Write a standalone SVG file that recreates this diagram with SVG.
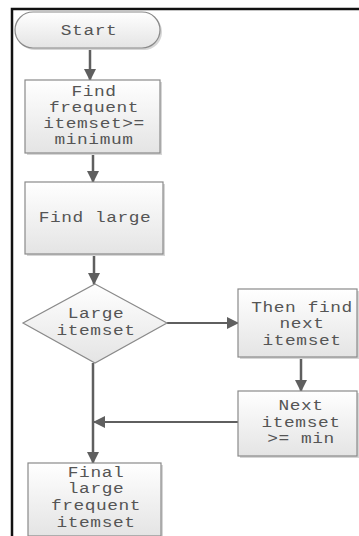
<svg xmlns="http://www.w3.org/2000/svg" width="359" height="536" viewBox="0 0 359 536">
  <defs>
    <linearGradient id="fillGrad" x1="0" y1="0" x2="0" y2="1">
      <stop offset="0" stop-color="#ffffff"/>
      <stop offset="1" stop-color="#e4e4e4"/>
    </linearGradient>
    <marker id="arrow" viewBox="0 0 12 12" refX="11" refY="6" markerWidth="12" markerHeight="12" markerUnits="userSpaceOnUse" orient="auto">
      <path d="M0,0 L12,6 L0,12 Z" fill="#5f5f5f"/>
    </marker>
    <style>
      .shape { fill: url(#fillGrad); stroke: #8a8a8a; stroke-width: 1.2; }
      .shadow { fill: #d6d6d6; }
      .label { font-family: "Liberation Mono", "Courier New", monospace; font-size: 15.5px; fill: #555555; text-anchor: middle; letter-spacing: 0.5px; }
      .edge { fill: none; stroke: #5f5f5f; stroke-width: 2.5; }
      .thin { stroke-width: 1.8; }
      .frame { fill: none; stroke: #111111; stroke-width: 2.5; }
    </style>
  </defs>

  <rect x="0" y="0" width="359" height="536" fill="#ffffff"/>

  <!-- outer frame (top and left sides) -->
  <path class="frame" d="M12,536 L12,9 L359,9"/>

  <!-- connectors -->
  <g id="connectors">
    <line class="edge" x1="90" y1="48" x2="90" y2="80" marker-end="url(#arrow)"/>
    <line class="edge" x1="93" y1="153" x2="93" y2="182" marker-end="url(#arrow)"/>
    <line class="edge" x1="94" y1="254" x2="94" y2="284" marker-end="url(#arrow)"/>
    <line class="edge thin" x1="167" y1="323" x2="238" y2="323" marker-end="url(#arrow)"/>
    <line class="edge" x1="301" y1="357" x2="301" y2="391" marker-end="url(#arrow)"/>
    <line class="edge thin" x1="238" y1="422" x2="94" y2="422" marker-end="url(#arrow)"/>
    <line class="edge" x1="93" y1="363" x2="93" y2="463" marker-end="url(#arrow)"/>
  </g>

  <!-- Start terminator -->
  <g id="start">
    <rect class="shadow" x="17" y="14" width="145" height="36" rx="18"/>
    <rect class="shape" x="15" y="12" width="145" height="36" rx="18"/>
    <text class="label" transform="translate(89,35) scale(1.15,1)">Start</text>
  </g>

  <!-- process: find frequent itemsets -->
  <g id="find-frequent">
    <rect class="shadow" x="27" y="82" width="135" height="73"/>
    <rect class="shape" x="25" y="80" width="135" height="73"/>
    <text class="label" transform="translate(94,96) scale(1.15,1)">Find</text>
    <text class="label" transform="translate(94,112) scale(1.15,1)">frequent</text>
    <text class="label" transform="translate(94,128) scale(1.15,1)">itemset&gt;=</text>
    <text class="label" transform="translate(94,144) scale(1.15,1)">minimum</text>
  </g>

  <!-- process: find large -->
  <g id="find-large">
    <rect class="shadow" x="27" y="184" width="138" height="72"/>
    <rect class="shape" x="25" y="182" width="138" height="72"/>
    <text class="label" transform="translate(95,222) scale(1.15,1)">Find large</text>
  </g>

  <!-- decision: large itemset -->
  <g id="large-itemset">
    <polygon class="shape" points="95,284 167,323 95,363 23,323"/>
    <text class="label" transform="translate(96,318) scale(1.15,1)">Large</text>
    <text class="label" transform="translate(96,335) scale(1.15,1)">itemset</text>
  </g>

  <!-- process: find next itemset -->
  <g id="find-next">
    <rect class="shadow" x="240" y="291" width="119" height="68"/>
    <rect class="shape" x="238" y="289" width="119" height="68"/>
    <text class="label" transform="translate(302,312) scale(1.15,1)">Then find</text>
    <text class="label" transform="translate(302,328) scale(1.15,1)">next</text>
    <text class="label" transform="translate(302,345) scale(1.15,1)">itemset</text>
  </g>

  <!-- process: next itemset threshold -->
  <g id="next-min">
    <rect class="shadow" x="240" y="393" width="119" height="65"/>
    <rect class="shape" x="238" y="391" width="119" height="65"/>
    <text class="label" transform="translate(301,410) scale(1.15,1)">Next</text>
    <text class="label" transform="translate(301,427) scale(1.15,1)">itemset</text>
    <text class="label" transform="translate(301,443) scale(1.15,1)">&gt;= min</text>
  </g>

  <!-- final output -->
  <g id="final">
    <rect class="shadow" x="30" y="465" width="133" height="73"/>
    <rect class="shape" x="28" y="463" width="133" height="73"/>
    <text class="label" transform="translate(96,477) scale(1.15,1)">Final</text>
    <text class="label" transform="translate(96,493) scale(1.15,1)">large</text>
    <text class="label" transform="translate(96,510) scale(1.15,1)">frequent</text>
    <text class="label" transform="translate(96,527) scale(1.15,1)">itemset</text>
  </g>
</svg>
